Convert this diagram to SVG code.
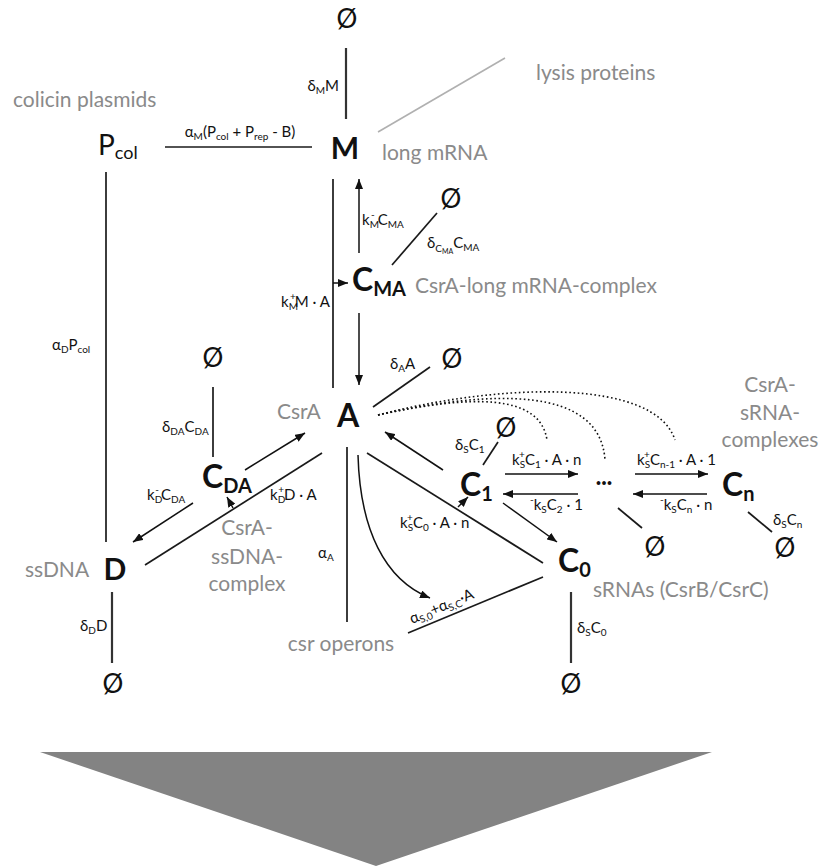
<svg xmlns="http://www.w3.org/2000/svg" width="826" height="868" viewBox="0 0 826 868">
<style>
text{font-family:Lato,"Open Sans","Liberation Sans",sans-serif;fill:#111}
.lab{font-size:15px}
.s{font-size:10px}
.g{fill:#8a8a8a;font-size:21px}
.node{font-weight:bold;font-size:30px}
.big{font-weight:bold;font-size:32px}
.nsub{font-weight:bold;font-size:20px}
.null{font-size:26px;text-anchor:middle}
.ln{stroke:#1a1a1a;stroke-width:1.7;fill:none}
.dl{stroke:#333;stroke-width:2.2;fill:none}
.ar{stroke:#111;stroke-width:1.5;fill:none;marker-end:url(#ah)}
.dot{stroke:#111;stroke-width:1.6;fill:none;stroke-dasharray:1.6 2.6}
</style>
<defs>
<marker id="ah" viewBox="0 0 10 8" refX="10" refY="4" markerWidth="10" markerHeight="8" markerUnits="userSpaceOnUse" orient="auto">
<path d="M0,0 L10,4 L0,8 z" fill="#111"/>
</marker>
</defs>
<g id="connectors">
<line class="dl" x1="346" y1="48" x2="346" y2="119"/>
<line x1="378" y1="132" x2="505" y2="58" stroke="#b0b0b0" stroke-width="1.6"/>
<line class="ln" x1="165" y1="147" x2="312" y2="147"/>
<line class="ln" x1="333" y1="179" x2="333" y2="388"/>
<line class="ar" x1="333" y1="283" x2="348" y2="283"/>
<line class="ar" x1="359" y1="253" x2="359" y2="179"/>
<line class="ar" x1="359" y1="313" x2="359" y2="385"/>
<line class="ln" x1="392" y1="265" x2="437" y2="213"/>
<line class="ln" x1="373" y1="407" x2="430" y2="367"/>
<line class="ln" x1="106" y1="172" x2="106" y2="542"/>
<line class="ln" x1="213" y1="387" x2="213" y2="457"/>
<line class="ar" x1="245" y1="470" x2="305" y2="433"/>
<line class="ar" x1="193" y1="503" x2="133" y2="542"/>
<line class="ln" x1="145" y1="565" x2="322" y2="453"/>
<line class="ar" x1="233" y1="508" x2="227" y2="497"/>
<line class="dl" x1="112" y1="592" x2="112" y2="663"/>
<line class="ln" x1="347" y1="447" x2="347" y2="622"/>
<path class="ar" d="M358,455 C360,530 385,580 430,598"/>
<line class="ln" x1="408" y1="633" x2="543" y2="577"/>
<line class="ln" x1="367" y1="453" x2="543" y2="563"/>
<line class="ar" x1="458" y1="507" x2="468" y2="497"/>
<line class="ar" x1="443" y1="470" x2="385" y2="432"/>
<line class="ar" x1="503" y1="503" x2="557" y2="542"/>
<line class="ln" x1="483" y1="465" x2="498" y2="442"/>
<line class="ar" x1="505" y1="474" x2="578" y2="474"/>
<line class="ar" x1="578" y1="494" x2="503" y2="494"/>
<line class="ar" x1="635" y1="474" x2="708" y2="474"/>
<line class="ar" x1="707" y1="494" x2="633" y2="494"/>
<line class="ln" x1="618" y1="508" x2="642" y2="528"/>
<line class="ln" x1="748" y1="512" x2="772" y2="532"/>
<line class="dl" x1="571" y1="592" x2="571" y2="663"/>
<path class="dot" d="M378,415 C470,395 540,393 547,440"/>
<path class="dot" d="M378,415 C490,390 600,385 605,460"/>
<path class="dot" d="M378,415 C500,383 655,378 675,440"/>
</g>
<g id="null-top"><text class="null" x="347" y="28">Ø</text></g>
<g id="label-dM"><text class="lab" x="339" y="91" text-anchor="end">δ<tspan class="s" dy="3">M</tspan><tspan dy="-3">M</tspan></text></g>
<g id="lysis"><text class="g" x="536" y="80">lysis proteins</text></g>
<g id="colicin"><text class="g" x="13" y="107">colicin plasmids</text></g>
<g id="Pcol"><text x="98" y="155" font-size="28">P<tspan font-size="18" dy="4">col</tspan></text></g>
<g id="label-aM"><text class="lab" x="240" y="137" text-anchor="middle">α<tspan class="s" dy="3">M</tspan><tspan dy="-3">(P</tspan><tspan class="s" dy="3">col</tspan><tspan dy="-3"> + P</tspan><tspan class="s" dy="3">rep</tspan><tspan dy="-3"> - B)</tspan></text></g>
<g id="M"><text class="node" x="345" y="159" text-anchor="middle">M</text></g>
<g id="longmRNA"><text class="g" x="382" y="160">long mRNA</text></g>
<g id="label-kmM"><text class="lab" x="362" y="225">k<tspan class="s" dy="3">M</tspan><tspan class="s" dx="-8" dy="-10">-</tspan><tspan dx="3" dy="7">C</tspan><tspan class="s" dy="3">MA</tspan></text></g>
<g id="null-cma"><text class="null" x="451" y="208">Ø</text></g>
<g id="label-dCMA"><text class="lab" x="427" y="248">δ<tspan class="s" dy="4">C</tspan><tspan font-size="7" dy="2">MA</tspan><tspan dy="-6">C</tspan><tspan class="s" dy="3">MA</tspan></text></g>
<g id="CMA"><text class="big" x="352" y="291">C<tspan class="nsub" dy="5">MA</tspan></text></g>
<g id="cma-lab"><text class="g" x="415" y="293">CsrA-long mRNA-complex</text></g>
<g id="label-kpM"><text class="lab" x="330" y="307" text-anchor="end">k<tspan class="s" dy="3">M</tspan><tspan class="s" dx="-8" dy="-10">+</tspan><tspan dx="-1" dy="7">M · A</tspan></text></g>
<g id="label-dA"><text class="lab" x="390" y="369">δ<tspan class="s" dy="3">A</tspan><tspan dy="-3">A</tspan></text></g>
<g id="null-A"><text class="null" x="452" y="368">Ø</text></g>
<g id="csra-lab"><text class="g" x="277" y="419">CsrA</text></g>
<g id="A"><text class="big" x="348" y="427" text-anchor="middle">A</text></g>
<g id="label-aD"><text class="lab" x="52" y="350">α<tspan class="s" dy="3">D</tspan><tspan dy="-3">P</tspan><tspan class="s" dy="3">col</tspan></text></g>
<g id="null-CDA"><text class="null" x="213" y="367">Ø</text></g>
<g id="label-dDA"><text class="lab" x="162" y="432">δ<tspan class="s" dy="3">DA</tspan><tspan dy="-3">C</tspan><tspan class="s" dy="3">DA</tspan></text></g>
<g id="CDA"><text class="big" x="202" y="488">C<tspan class="nsub" dy="5">DA</tspan></text></g>
<g id="label-kmD"><text class="lab" x="147" y="500">k<tspan class="s" dy="3">D</tspan><tspan class="s" dx="-7" dy="-10">-</tspan><tspan dx="2" dy="7">C</tspan><tspan class="s" dy="3">DA</tspan></text></g>
<g id="label-kpD"><text class="lab" x="270" y="500">k<tspan class="s" dy="3">D</tspan><tspan class="s" dx="-7" dy="-10">+</tspan><tspan dy="7">D · A</tspan></text></g>
<g id="cda-lab"><text class="g" text-anchor="middle"><tspan x="247" y="535">CsrA-</tspan><tspan x="247" y="564">ssDNA-</tspan><tspan x="247" y="591">complex</tspan></text></g>
<g id="ssdna"><text class="g" x="25" y="577">ssDNA</text></g>
<g id="D"><text class="node" x="115" y="580" text-anchor="middle">D</text></g>
<g id="label-dD"><text class="lab" x="80" y="631">δ<tspan class="s" dy="3">D</tspan><tspan dy="-3">D</tspan></text></g>
<g id="null-D"><text class="null" x="113" y="693">Ø</text></g>
<g id="label-aA"><text class="lab" x="318" y="558">α<tspan class="s" dy="3">A</tspan></text></g>
<g id="csr"><text class="g" x="341" y="651" text-anchor="middle">csr operons</text></g>
<g id="label-aS"><text class="lab" transform="translate(412,624) rotate(-22.5)">α<tspan class="s" dy="3">S,0</tspan><tspan dy="-3">+α</tspan><tspan class="s" dy="3">S,C</tspan><tspan dy="-3">·A</tspan></text></g>
<g id="label-dS1"><text class="lab" x="455" y="450">δ<tspan class="s" dy="3">S</tspan><tspan dy="-3">C</tspan><tspan class="s" dy="3">1</tspan></text></g>
<g id="null-C1"><text class="null" x="506" y="437">Ø</text></g>
<g id="C1"><text class="big" x="460" y="496">C<tspan class="nsub" dy="5">1</tspan></text></g>
<g id="label-kpS1"><text class="lab" x="512" y="465">k<tspan class="s" dy="3">S</tspan><tspan class="s" dx="-6" dy="-10">+</tspan><tspan dy="7">C</tspan><tspan class="s" dy="3">1</tspan><tspan dy="-3"> · A · n</tspan></text></g>
<g id="label-kmS2"><text class="lab" x="530" y="510"><tspan class="s" dy="-7">-</tspan><tspan dy="7">k</tspan><tspan class="s" dy="3">S</tspan><tspan dy="-3">C</tspan><tspan class="s" dy="3">2</tspan><tspan dy="-3"> · 1</tspan></text></g>
<g id="dots"><text x="604" y="489" font-size="20" font-weight="bold" text-anchor="middle">···</text></g>
<g id="label-kpSn"><text class="lab" x="637" y="465">k<tspan class="s" dy="3">S</tspan><tspan class="s" dx="-6" dy="-10">+</tspan><tspan dy="7">C</tspan><tspan class="s" dy="3">n-1</tspan><tspan dy="-3"> · A · 1</tspan></text></g>
<g id="label-kmSn"><text class="lab" x="660" y="510"><tspan class="s" dy="-7">-</tspan><tspan dy="7">k</tspan><tspan class="s" dy="3">S</tspan><tspan dy="-3">C</tspan><tspan class="s" dy="3">n</tspan><tspan dy="-3"> · n</tspan></text></g>
<g id="Cn"><text class="big" x="722" y="496">C<tspan class="nsub" dy="5">n</tspan></text></g>
<g id="label-dSn"><text class="lab" x="773" y="525">δ<tspan class="s" dy="3">S</tspan><tspan dy="-3">C</tspan><tspan class="s" dy="3">n</tspan></text></g>
<g id="null-Cn"><text class="null" x="785" y="557">Ø</text></g>
<g id="null-dots"><text class="null" x="655" y="556">Ø</text></g>
<g id="csrn-lab"><text class="g" text-anchor="middle"><tspan x="770" y="392">CsrA-</tspan><tspan x="770" y="420">sRNA-</tspan><tspan x="770" y="447">complexes</tspan></text></g>
<g id="label-kpS0"><text class="lab" x="400" y="528">k<tspan class="s" dy="3">S</tspan><tspan class="s" dx="-6" dy="-10">+</tspan><tspan dy="7">C</tspan><tspan class="s" dy="3">0</tspan><tspan dy="-3"> · A · n</tspan></text></g>
<g id="C0"><text class="big" x="558" y="572">C<tspan class="nsub" dy="5">0</tspan></text></g>
<g id="srna"><text class="g" x="593" y="597">sRNAs (CsrB/CsrC)</text></g>
<g id="label-dS0"><text class="lab" x="577" y="633">δ<tspan class="s" dy="3">S</tspan><tspan dy="-3">C</tspan><tspan class="s" dy="3">0</tspan></text></g>
<g id="null-C0"><text class="null" x="571" y="693">Ø</text></g>
<g id="bigarrow"><polygon points="40,752 712,752 376,866" fill="#838383"/></g>
</svg>
